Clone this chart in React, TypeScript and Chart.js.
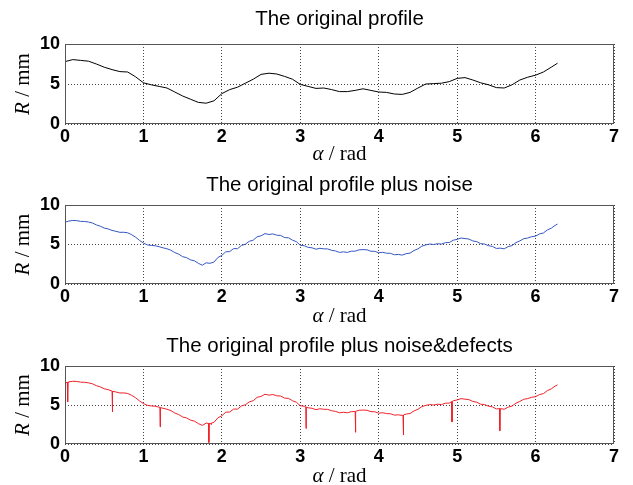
import React, { useEffect, useRef } from "react";
import { Chart, registerables } from "chart.js";

Chart.register(...registerables);

const xTicks = [0, 1, 2, 3, 4, 5, 6, 7];
const yTicks = [0, 5, 10];
const titles = [
  "The original profile",
  "The original profile plus noise",
  "The original profile plus noise&defects",
];

const profileAlpha = [
  0.0, 0.1, 0.2, 0.3, 0.4, 0.5, 0.6, 0.7, 0.8, 0.9, 1.0, 1.1, 1.2, 1.3, 1.4, 1.5, 1.6, 1.7, 1.8, 1.9,
  2.0, 2.1, 2.2, 2.3, 2.4, 2.5, 2.6, 2.7, 2.8, 2.9, 3.0, 3.1, 3.2, 3.3, 3.4, 3.5, 3.6, 3.7, 3.8, 3.9,
  4.0, 4.1, 4.2, 4.3, 4.4, 4.5, 4.6, 4.7, 4.8, 4.9, 5.0, 5.1, 5.2, 5.3, 5.4, 5.5, 5.6, 5.7, 5.8, 5.9,
  6.0, 6.1, 6.2, 6.28,
];
const profileR = [
  7.8, 8.05, 7.95, 7.85, 7.5, 7.1, 6.8, 6.55, 6.5, 5.9, 5.15, 4.9, 4.7, 4.5, 4.0, 3.5, 3.1, 2.7, 2.6, 2.9,
  3.8, 4.3, 4.6, 5.1, 5.6, 6.2, 6.35, 6.25, 5.95, 5.6, 4.95, 4.7, 4.45, 4.5, 4.3, 4.05, 4.05, 4.2, 4.4, 4.2,
  4.0, 3.95, 3.75, 3.7, 3.95, 4.5, 5.0, 5.05, 5.1, 5.3, 5.7, 5.8, 5.5, 5.15, 4.9, 4.55, 4.5, 4.9, 5.5, 5.85,
  6.1, 6.5, 7.1, 7.6,
];

const noisyAlpha = [
  0.0, 0.05, 0.1, 0.15, 0.2, 0.25, 0.3, 0.35, 0.4, 0.45, 0.5, 0.55, 0.6, 0.65, 0.7, 0.75, 0.8, 0.85, 0.9, 0.95,
  1.0, 1.05, 1.1, 1.15, 1.2, 1.25, 1.3, 1.35, 1.4, 1.45, 1.5, 1.55, 1.6, 1.65, 1.7, 1.75, 1.8, 1.85, 1.9, 1.95,
  2.0, 2.05, 2.1, 2.15, 2.2, 2.25, 2.3, 2.35, 2.4, 2.45, 2.5, 2.55, 2.6, 2.65, 2.7, 2.75, 2.8, 2.85, 2.9, 2.95,
  3.0, 3.05, 3.1, 3.15, 3.2, 3.25, 3.3, 3.35, 3.4, 3.45, 3.5, 3.55, 3.6, 3.65, 3.7, 3.75, 3.8, 3.85, 3.9, 3.95,
  4.0, 4.05, 4.1, 4.15, 4.2, 4.25, 4.3, 4.35, 4.4, 4.45, 4.5, 4.55, 4.6, 4.65, 4.7, 4.75, 4.8, 4.85, 4.9, 4.95,
  5.0, 5.05, 5.1, 5.15, 5.2, 5.25, 5.3, 5.35, 5.4, 5.45, 5.5, 5.55, 5.6, 5.65, 5.7, 5.75, 5.8, 5.85, 5.9, 5.95,
  6.0, 6.05, 6.1, 6.15, 6.2, 6.25, 6.28,
];
const noisyR = [
  7.82, 7.97, 8.04, 8.02, 7.93, 7.91, 7.84, 7.72, 7.48, 7.32, 7.08, 6.97, 6.78, 6.67, 6.54, 6.55, 6.48, 6.24, 5.93, 5.52,
  5.18, 4.95, 4.88, 4.84, 4.72, 4.58, 4.46, 4.28, 3.97, 3.78, 3.46, 3.34, 3.06, 2.93, 2.62, 2.38, 2.68, 2.62, 2.78, 3.36,
  3.62, 4.08, 4.1, 4.48, 4.47, 4.88, 5.04, 5.4, 5.55, 5.98, 6.1, 6.38, 6.27, 6.34, 6.18, 6.15, 5.88, 5.85, 5.55, 5.36,
  4.9, 4.84, 4.64, 4.58, 4.4, 4.52, 4.45, 4.44, 4.26, 4.18, 4.0, 4.07, 4.0, 4.15, 4.16, 4.33, 4.35, 4.33, 4.15, 4.13,
  3.95, 4.01, 3.9, 3.88, 3.7, 3.74, 3.66, 3.84, 3.91, 4.24, 4.45, 4.79, 4.95, 5.06, 5.0, 5.1, 5.05, 5.23, 5.25, 5.54,
  5.65, 5.82, 5.75, 5.69, 5.45, 5.36, 5.1, 5.06, 4.85, 4.76, 4.5, 4.54, 4.45, 4.73, 4.86, 5.24, 5.46, 5.74, 5.82, 5.99,
  6.06, 6.34, 6.46, 6.84, 7.06, 7.43, 7.58,
];

const defectAlpha = [0.03, 0.6, 1.21, 1.83, 1.86, 3.07, 3.7, 4.31, 4.93, 5.54];
const defectBottom = [5.4, 4.1, 2.2, 0.2, 2.5, 2.0, 1.5, 1.15, 2.85, 1.7];

function interpNoisy(a: number): number {
  for (let i = 0; i < noisyAlpha.length - 1; i++) {
    if (a >= noisyAlpha[i] && a <= noisyAlpha[i + 1]) {
      const t = (a - noisyAlpha[i]) / (noisyAlpha[i + 1] - noisyAlpha[i]);
      return noisyR[i] + t * (noisyR[i + 1] - noisyR[i]);
    }
  }
  return noisyR[noisyR.length - 1];
}

function buildDefectSeries() {
  const W = 0.009;
  const pts: { x: number; y: number }[] = [];
  noisyAlpha.forEach((a, i) => {
    const inside = defectAlpha.some((d) => a >= d && a <= d + W);
    if (!inside) pts.push({ x: a, y: noisyR[i] });
  });
  defectAlpha.forEach((d, i) => {
    pts.push({ x: d, y: interpNoisy(d) });
    pts.push({ x: d + 0.003, y: defectBottom[i] });
    pts.push({ x: d + 0.005, y: defectBottom[i] });
    pts.push({ x: d + W, y: interpNoisy(d + W) });
  });
  pts.sort((p, q) => p.x - q.x);
  return pts;
}

const toPts = (xs: number[], ys: number[]) => xs.map((x, i) => ({ x, y: ys[i] }));

const panels = [
  { top: 0, height: 163, plotTop: 44, plotBottom: 124, titleCenter: 19, color: "#000000", data: toPts(profileAlpha, profileR), xTitleOff: 30 },
  { top: 163, height: 161, plotTop: 42, plotBottom: 121, titleCenter: 22, color: "#3556c0", data: toPts(noisyAlpha, noisyR), xTitleOff: 32 },
  { top: 324, height: 161, plotTop: 42, plotBottom: 120, titleCenter: 22, color: "#f0202a", data: buildDefectSeries(), xTitleOff: 32 },
];

const SERIF = '"Liberation Serif", "Times New Roman", serif';
const SANS = '"Liberation Sans", Arial, sans-serif';

function drawMixed(ctx: CanvasRenderingContext2D, parts: [string, string][], cx: number, cy: number) {
  let total = 0;
  const widths = parts.map(([t, f]) => {
    ctx.font = f;
    const w = ctx.measureText(t).width;
    total += w;
    return w;
  });
  let x = cx - total / 2;
  parts.forEach(([t, f], i) => {
    ctx.font = f;
    ctx.textAlign = "left";
    ctx.fillText(t, x, cy);
    x += widths[i];
  });
}

function Panel({ idx }: { idx: number }) {
  const ref = useRef<HTMLCanvasElement>(null);
  const p = panels[idx];
  useEffect(() => {
    if (!ref.current) return;
    const decor = {
      id: "decor" + idx,
      afterDraw(chart: any) {
        const { ctx, chartArea: a } = chart;
        ctx.save();
        ctx.strokeStyle = "#555";
        ctx.lineWidth = 1;
        ctx.setLineDash([]);
        ctx.strokeRect(Math.round(a.left) + 0.5, Math.round(a.top) + 0.5, Math.round(a.right - a.left) - 1, Math.round(a.bottom - a.top) - 1);
        ctx.fillStyle = "#000";
        ctx.textBaseline = "middle";
        // chart title, centred over the plot area
        ctx.font = `20.5px ${SANS}`;
        ctx.textAlign = "center";
        ctx.fillText(titles[idx], (a.left + a.right) / 2, p.titleCenter);
        const it = `italic 21px ${SERIF}`;
        const rg = `21px ${SERIF}`;
        drawMixed(ctx, [["α", it], [" / rad", rg]], (a.left + a.right) / 2, a.bottom + p.xTitleOff);
        ctx.translate(23, (a.top + a.bottom) / 2);
        ctx.rotate(-Math.PI / 2);
        drawMixed(ctx, [["R", it], [" / mm", rg]], 0, 0);
        ctx.restore();
      },
    };
    const chart = new Chart(ref.current, {
      type: "line",
      data: {
        datasets: [
          {
            data: p.data,
            borderColor: p.color,
            borderWidth: 1,
            pointRadius: 0,
            tension: 0,
            fill: false,
          },
        ],
      },
      options: {
        animation: false,
        responsive: false,
        devicePixelRatio: 1,
        layout: { padding: { left: 0, right: 19, top: p.plotTop, bottom: 0 } },
        plugins: {
          legend: { display: false },
          tooltip: { enabled: false },
          title: { display: false },
        },
        scales: {
          x: {
            type: "linear",
            min: 0,
            max: 7,
            afterBuildTicks: (s: any) => {
              s.ticks = xTicks.map((v) => ({ value: v }));
            },
            afterFit: (s: any) => {
              s.height = p.height - p.plotBottom;
            },
            grid: { color: "#444", lineWidth: 1, drawTicks: false },
            border: { display: false, dash: [1, 2] },
            ticks: { color: "#000", padding: 2, maxRotation: 0, font: { family: SANS, size: 18, weight: "bold" } },
          },
          y: {
            type: "linear",
            min: 0,
            max: 10,
            afterBuildTicks: (s: any) => {
              s.ticks = yTicks.map((v) => ({ value: v }));
            },
            afterFit: (s: any) => {
              s.width = 65;
            },
            grid: { color: "#444", lineWidth: 1, drawTicks: false },
            border: { display: false, dash: [1, 2] },
            ticks: { color: "#000", padding: 5, font: { family: SANS, size: 18, weight: "bold" } },
          },
        },
      },
      plugins: [decor],
    } as any);
    return () => chart.destroy();
  }, []);
  return (
    <div style={{ position: "absolute", left: 0, top: p.top, width: 633, height: p.height }}>
      <canvas ref={ref} width={633} height={p.height} style={{ width: 633, height: p.height, display: "block" }} />
    </div>
  );
}

export default function App() {
  return (
    <div style={{ position: "fixed", left: 0, top: 0, width: 633, height: 485, background: "#fff", overflow: "hidden" }}>
      <Panel idx={0} />
      <Panel idx={1} />
      <Panel idx={2} />
    </div>
  );
}
